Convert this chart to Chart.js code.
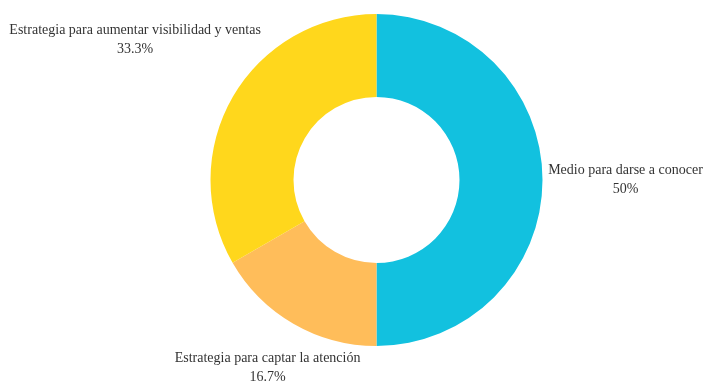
<!DOCTYPE html>
<html>
<head>
<meta charset="utf-8">
<script src="https://cdn.jsdelivr.net/npm/chart.js@4/dist/chart.umd.min.js"></script>
<style>
  html, body { margin: 0; padding: 0; background: #fff; }
  #wrap { width: 703px; height: 381px; }
</style>
</head>
<body>
<div id="wrap"><canvas id="donut"></canvas></div>
<script>
// Datos del gráfico
const categorias = [
  'Medio para darse a conocer',
  'Estrategia para captar la atención',
  'Estrategia para aumentar visibilidad y ventas'
];
const porcentajes = [50, 16.7, 33.3];
const colores = ['#12c1df', '#ffbd5a', '#ffd71c'];

// Distancia de cada etiqueta respecto al radio exterior
const distEtiqueta = [1.50, 1.31, 1.68];

/**
 * Dibuja las etiquetas (nombre + porcentaje) fuera de cada sector.
 */
const etiquetasExternas = {
  id: 'etiquetasExternas',
  afterDatasetsDraw(chart) {
    const ctx = chart.ctx;
    const arcs = chart.getDatasetMeta(0).data;
    ctx.save();
    ctx.font = '14px "Liberation Serif", "Times New Roman", serif';
    ctx.fillStyle = '#333';
    ctx.textAlign = 'center';
    ctx.textBaseline = 'middle';
    arcs.forEach((arc, i) => {
      const { x, y, startAngle, endAngle, outerRadius } = arc.getProps(
        ['x', 'y', 'startAngle', 'endAngle', 'outerRadius'], true);
      const mid = (startAngle + endAngle) / 2;
      const r = outerRadius * distEtiqueta[i];
      const cx = x + Math.cos(mid) * r;
      const cy = y + Math.sin(mid) * r;
      ctx.fillText(categorias[i], cx, cy - 9.5);
      ctx.fillText(porcentajes[i] + '%', cx, cy + 9.5);
    });
    ctx.restore();
  }
};

new Chart(document.getElementById('donut').getContext('2d'), {
  type: 'doughnut',
  data: {
    labels: categorias,
    datasets: [{
      data: porcentajes,
      backgroundColor: colores,
      borderWidth: 0
    }]
  },
  options: {
    responsive: true,
    maintainAspectRatio: false,
    animation: false,
    cutout: '50%',
    layout: {
      padding: { top: 14, bottom: 35, left: 50, right: 0 }
    },
    plugins: {
      legend: { display: false },
      tooltip: { enabled: false }
    }
  },
  plugins: [etiquetasExternas]
});
</script>
</body>
</html>
